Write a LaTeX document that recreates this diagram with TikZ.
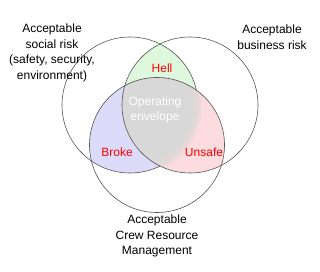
\documentclass[tikz,border=0pt]{standalone}
\usepackage{fontspec}
\setmainfont{Liberation Sans}
\definecolor{greenc}{RGB}{222,248,222}
\definecolor{bluec}{RGB}{220,220,250}
\definecolor{pinkc}{RGB}{252,220,222}
\definecolor{greyc}{RGB}{216,216,216}
\definecolor{linec}{RGB}{85,85,85}
\begin{document}
\begin{tikzpicture}[x=1pt,y=-1pt,
  lbl/.style={font=\fontsize{12}{15.6}\selectfont, align=center, inner sep=0pt},
  redlbl/.style={lbl, text=red},
  whitelbl/.style={lbl, text=white},
  ring/.style={draw=linec, line width=0.6pt}]
\useasboundingbox (0,0) rectangle (320,272);
\fill[white] (0,0) rectangle (320,272);
\coordinate (cL) at (130,105);
\coordinate (cR) at (190,105);
\coordinate (cB) at (157,145);
% region fills
\begin{scope}
  \clip (cL) circle[radius=68pt];
  \fill[greenc] (cR) circle[radius=68pt];
\end{scope}
\begin{scope}
  \clip (cL) circle[radius=68pt];
  \fill[bluec] (cB) circle[radius=67.5pt];
\end{scope}
\begin{scope}
  \clip (cR) circle[radius=68pt];
  \fill[pinkc] (cB) circle[radius=67.5pt];
\end{scope}
\begin{scope}
  \clip (cR) circle[radius=68pt];
  \clip (cB) circle[radius=67.5pt];
  \fill[greyc] (cL) circle[radius=61pt];
  \foreach \r in {62,...,72} {\fill[greyc, opacity=0.18] (cL) circle[radius=\r pt];}
\end{scope}
% outlines
\begin{scope}[even odd rule]
  \clip (-5,-5) rectangle (325,277) (cR) circle[radius=68pt];
  \draw[ring] (cL) circle[radius=68pt];
\end{scope}
\begin{scope}
  \clip (cR) circle[radius=68pt];
  \begin{scope}[even odd rule]
    \clip (-5,-5) rectangle (325,277) (cB) circle[radius=67.5pt];
    \draw[ring] (cL) circle[radius=68pt];
  \end{scope}
\end{scope}
\draw[ring] (cR) circle[radius=68pt];
\draw[ring] (cB) circle[radius=67.5pt];
% labels
\node[redlbl] (hell) at (162,68) {Hell};
\node[whitelbl] (env) at (155,110) {Operating\\envelope};
\node[redlbl] (broke) at (117,152) {Broke};
\node[redlbl] (unsafe) at (204,152) {Unsafe};
\node[lbl] (social) at (52,53) {Acceptable\\social risk\\(safety, security,\\environment)};
\node[lbl] (business) at (272,37) {Acceptable\\business risk};
\node[lbl] (crew) at (157,236) {Acceptable\\Crew Resource\\Management};
\end{tikzpicture}
\end{document}
